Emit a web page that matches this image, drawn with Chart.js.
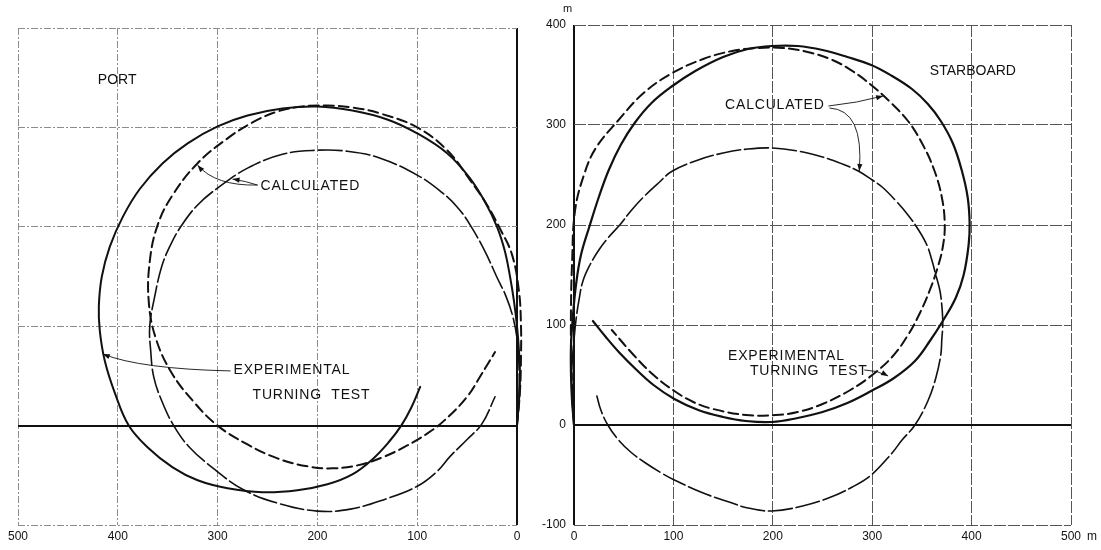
<!DOCTYPE html>
<html>
<head>
<meta charset="utf-8">
<script src="https://cdn.jsdelivr.net/npm/chart.js@4.4.1/dist/chart.umd.min.js"></script>
<style>
  html, body { margin: 0; padding: 0; background: #fff; }
  #wrap { position: relative; width: 1101px; height: 550px; overflow: hidden; }
  canvas { position: absolute; top: 0; }
  #port { left: 0; }
  #stbd { left: 530px; }
</style>
</head>
<body>
<div id="wrap">
  <canvas id="port" width="545" height="550"></canvas>
  <canvas id="stbd" width="571" height="550"></canvas>
</div>
<script>
// Turning circle tracks, advance/transfer in metres

// axis ticks
const xTicks = [0, 100, 200, 300, 400, 500];
const yTicks = [-100, 0, 100, 200, 300, 400];

// PORT turn - experimental turning test
const portTestX = [0, -2, -3, -2, 0, 3, 7, 12, 20, 32, 48, 70, 100, 130, 165, 200, 235, 270, 300, 330, 355, 378, 395, 408, 416, 419, 418, 413, 403, 389, 370, 345, 320, 290, 255, 220, 190, 165, 145, 128, 116, 106, 97];
const portTestY = [0, 25, 50, 75, 100, 125, 150, 175, 200, 225, 250, 274, 294, 308, 317, 321, 319, 312, 301, 284, 264, 238, 210, 180, 150, 120, 95, 65, 33, 0, -22, -42, -55, -63, -67, -65, -59, -49, -34, -16, 0, 18, 39];
// PORT turn - calculated (outer)
const portCalcAX = [0, -3, -4, -4, -2, 5, 17, 30, 47, 70, 100, 137, 165, 190, 215, 240, 265, 290, 320, 345, 360, 368, 369, 362, 346, 324, 300, 270, 240, 210, 185, 160, 135, 110, 90, 73, 50, 36, 22];
const portCalcAY = [0, 35, 70, 100, 135, 172, 198, 222, 247, 277, 300, 314, 320, 322, 321, 316, 305, 289, 264, 232, 202, 165, 125, 88, 53, 24, 0, -19, -33, -41, -43, -40, -32, -20, -8, 5, 29, 51, 74];
// PORT turn - calculated (inner)
const portCalcBX = [0, -2, -2, 0, 4, 11, 20, 32, 47, 60, 77, 100, 137, 170, 201, 235, 270, 300, 320, 337, 348, 356, 363, 368, 367, 364, 356, 344, 328, 303, 275, 240, 200, 167, 132, 100, 80, 67, 50, 35, 22];
const portCalcBY = [0, 30, 60, 88, 109, 130, 149, 175, 202, 220, 236, 252, 269, 276, 277, 273, 259, 239, 222, 200, 180, 160, 130, 100, 75, 49, 25, 0, -22, -44, -64, -78, -86, -84, -74, -61, -46, -31, -14, 2, 29];

// STARBOARD turn - experimental turning test
const stbdTestX = [0, -2, -3, -3, -1, 2, 7, 16, 25, 35, 47, 61, 78, 99, 122, 150, 175, 199, 225, 250, 275, 299, 320, 340, 356, 369, 381, 390, 396, 398, 397, 392, 384, 371, 358, 343, 322, 299, 275, 250, 225, 199, 173, 150, 125, 101, 80, 62, 46, 32, 19];
const stbdTestY = [0, 25, 50, 80, 110, 140, 170, 200, 228, 255, 280, 302, 322, 339, 354, 368, 376, 379, 379, 375, 368, 360, 349, 336, 321, 304, 282, 255, 228, 202, 180, 150, 127, 104, 84, 64, 47, 34, 22, 13, 7, 3, 4, 8, 15, 26, 40, 56, 72, 88, 104];
// STARBOARD turn - calculated (outer)
const stbdCalcAX = [0, -2, -3, -3, -2, 1, 10, 22, 44, 70, 99, 130, 159, 185, 210, 235, 260, 280, 299, 318, 336, 350, 362, 370, 373, 371, 366, 358, 348, 336, 320, 300, 278, 250, 225, 203, 173, 140, 120, 101, 80, 60, 38];
const stbdCalcAY = [0, 40, 80, 120, 160, 214, 250, 277, 304, 332, 352, 366, 374, 377, 377, 373, 365, 354, 340, 323, 304, 282, 256, 228, 200, 178, 158, 135, 112, 90, 68, 50, 35, 21, 13, 10, 10, 16, 23, 34, 50, 70, 95];
// STARBOARD turn - calculated (inner)
const stbdCalcBX = [0, -2, -2, 0, 2, 5, 9, 16, 25, 35, 46, 58, 70, 85, 99, 125, 150, 175, 200, 225, 250, 270, 286, 300, 310, 324, 336, 346, 355, 360, 364, 368, 370, 371, 370, 369, 364, 356, 343, 330, 320, 299, 280, 256, 230, 199, 175, 159, 130, 101, 88, 72, 57, 44, 34, 27, 23];
const stbdCalcBY = [0, 30, 60, 85, 105, 125, 144, 160, 175, 188, 200, 215, 228, 242, 254, 265, 272, 276, 277, 274, 268, 261, 254, 245, 238, 224, 210, 196, 180, 165, 150, 135, 120, 102, 85, 70, 47, 24, 0, -15, -28, -50, -62, -73, -81, -86, -83, -78, -68, -55, -48, -38, -27, -14, 0, 15, 29];

const pts = (xs, ys) => xs.map((x, i) => ({ x: x, y: ys[i] }));

const FONT = "'Liberation Sans', Arial, Helvetica, sans-serif";
const INK = '#111';

// text labels and leader arrows placed in data units
const notesPlugin = {
  id: 'notes',
  afterDatasetsDraw(chart, args, opts) {
    const { ctx, scales: { x, y }, chartArea } = chart;
    ctx.save();
    ctx.fillStyle = INK;
    ctx.strokeStyle = INK;
    ctx.textBaseline = 'middle';
    ctx.textAlign = 'left';
    (opts.texts || []).forEach(t => {
      ctx.font = (t.size || 14) + 'px ' + FONT;
      ctx.letterSpacing = (t.spacing || 0) + 'px';
      ctx.fillText(t.text, x.getPixelForValue(t.x), y.getPixelForValue(t.y));
    });
    ctx.letterSpacing = '0px';
    (opts.leaders || []).forEach(l => {
      const x0 = x.getPixelForValue(l.from[0]), y0 = y.getPixelForValue(l.from[1]);
      const cx = x.getPixelForValue(l.ctrl[0]), cy = y.getPixelForValue(l.ctrl[1]);
      const x1 = x.getPixelForValue(l.to[0]), y1 = y.getPixelForValue(l.to[1]);
      ctx.lineWidth = 0.9;
      ctx.beginPath();
      ctx.moveTo(x0, y0);
      ctx.quadraticCurveTo(cx, cy, x1, y1);
      ctx.stroke();
      const a = Math.atan2(y1 - cy, x1 - cx);
      ctx.beginPath();
      ctx.moveTo(x1, y1);
      ctx.lineTo(x1 - 7 * Math.cos(a) + 2.6 * Math.sin(a), y1 - 7 * Math.sin(a) - 2.6 * Math.cos(a));
      ctx.lineTo(x1 - 7 * Math.cos(a) - 2.6 * Math.sin(a), y1 - 7 * Math.sin(a) + 2.6 * Math.cos(a));
      ctx.closePath();
      ctx.fill();
    });
    (opts.units || []).forEach(u => {
      const px = u.edge === 'top' ? chartArea.left + u.dx : chartArea.right + u.dx;
      const py = u.edge === 'top' ? chartArea.top + u.dy : chartArea.bottom + u.dy;
      ctx.font = (u.size || 11) + 'px ' + FONT;
      ctx.fillText(u.text, px, py);
    });
    ctx.restore();
  }
};

const zero = c => c.tick && c.tick.value === 0;

function track(data, width, dash) {
  return {
    data: data,
    showLine: true,
    borderColor: INK,
    borderWidth: width,
    borderDash: dash,
    borderCapStyle: 'round',
    pointRadius: 0,
    tension: 0.4,
    fill: false,
    clip: false
  };
}

function axes(reverse, showY, gridTone, gridDash) {
  const grid = {
    drawTicks: false,
    color: c => zero(c) ? INK : gridTone,
    lineWidth: c => zero(c) ? 2 : 1
  };
  const border = { display: false, dash: c => zero(c) ? [] : gridDash };
  return {
    x: {
      type: 'linear', min: 0, max: 500, reverse: reverse,
      afterBuildTicks: s => { s.ticks = xTicks.map(v => ({ value: v })); },
      afterFit: s => { s.height = 20; },
      grid: grid, border: border,
      ticks: { color: INK, padding: 4, font: { family: FONT, size: 12 } }
    },
    y: {
      type: 'linear', min: -100, max: 400,
      afterBuildTicks: s => { s.ticks = yTicks.map(v => ({ value: v })); },
      afterFit: s => { s.width = showY ? 44 : 0; },
      grid: grid, border: border,
      ticks: {
        display: showY, color: INK, padding: 8, font: { family: FONT, size: 12 },
        callback: v => String(v)
      }
    }
  };
}

new Chart(document.getElementById('port'), {
  type: 'scatter',
  data: {
    datasets: [
      track(pts(portTestX, portTestY), 2, []),
      track(pts(portCalcAX, portCalcAY), 2, [10, 5]),
      track(pts(portCalcBX, portCalcBY), 1.6, [24, 4])
    ]
  },
  options: {
    responsive: false,
    animation: false,
    layout: { padding: { left: 18, right: 28, top: 28, bottom: 5 } },
    scales: axes(true, false, '#8c8c8c', [7, 2, 2, 2]),
    plugins: {
      legend: { display: false },
      tooltip: { enabled: false },
      notes: {
        texts: [
          { text: 'PORT', x: 420, y: 348 },
          { text: 'CALCULATED', x: 257, y: 241, spacing: 0.8 },
          { text: 'EXPERIMENTAL', x: 284, y: 56, spacing: 0.8 },
          { text: 'TURNING  TEST', x: 265, y: 31, spacing: 0.8 }
        ],
        leaders: [
          { from: [260, 242], ctrl: [302, 241], to: [320, 262] },
          { from: [260, 242], ctrl: [272, 246], to: [285, 248] },
          { from: [287, 55], ctrl: [377, 57], to: [415, 72] }
        ]
      }
    }
  },
  plugins: [notesPlugin]
});

new Chart(document.getElementById('stbd'), {
  type: 'scatter',
  data: {
    datasets: [
      track(pts(stbdTestX, stbdTestY), 2.2, []),
      track(pts(stbdCalcAX, stbdCalcAY), 2, [10, 5]),
      track(pts(stbdCalcBX, stbdCalcBY), 1.6, [24, 4])
    ]
  },
  options: {
    responsive: false,
    animation: false,
    layout: { padding: { left: 0, right: 30, top: 25, bottom: 5 } },
    scales: axes(false, true, '#555', [12, 2]),
    plugins: {
      legend: { display: false },
      tooltip: { enabled: false },
      notes: {
        texts: [
          { text: 'STARBOARD', x: 358, y: 354 },
          { text: 'CALCULATED', x: 152, y: 320, spacing: 0.8 },
          { text: 'EXPERIMENTAL', x: 155, y: 69, spacing: 0.8 },
          { text: 'TURNING  TEST', x: 177, y: 54, spacing: 0.8 }
        ],
        leaders: [
          { from: [256, 319], ctrl: [285, 322], to: [311, 329] },
          { from: [257, 317], ctrl: [292, 315], to: [287, 254] },
          { from: [292, 55], ctrl: [305, 55], to: [316, 49] }
        ],
        units: [
          { text: 'm', edge: 'top', dx: -11, dy: -16 },
          { text: 'm', edge: 'bottom', dx: 16, dy: 12, size: 12 }
        ]
      }
    }
  },
  plugins: [notesPlugin]
});
</script>
</body>
</html>
